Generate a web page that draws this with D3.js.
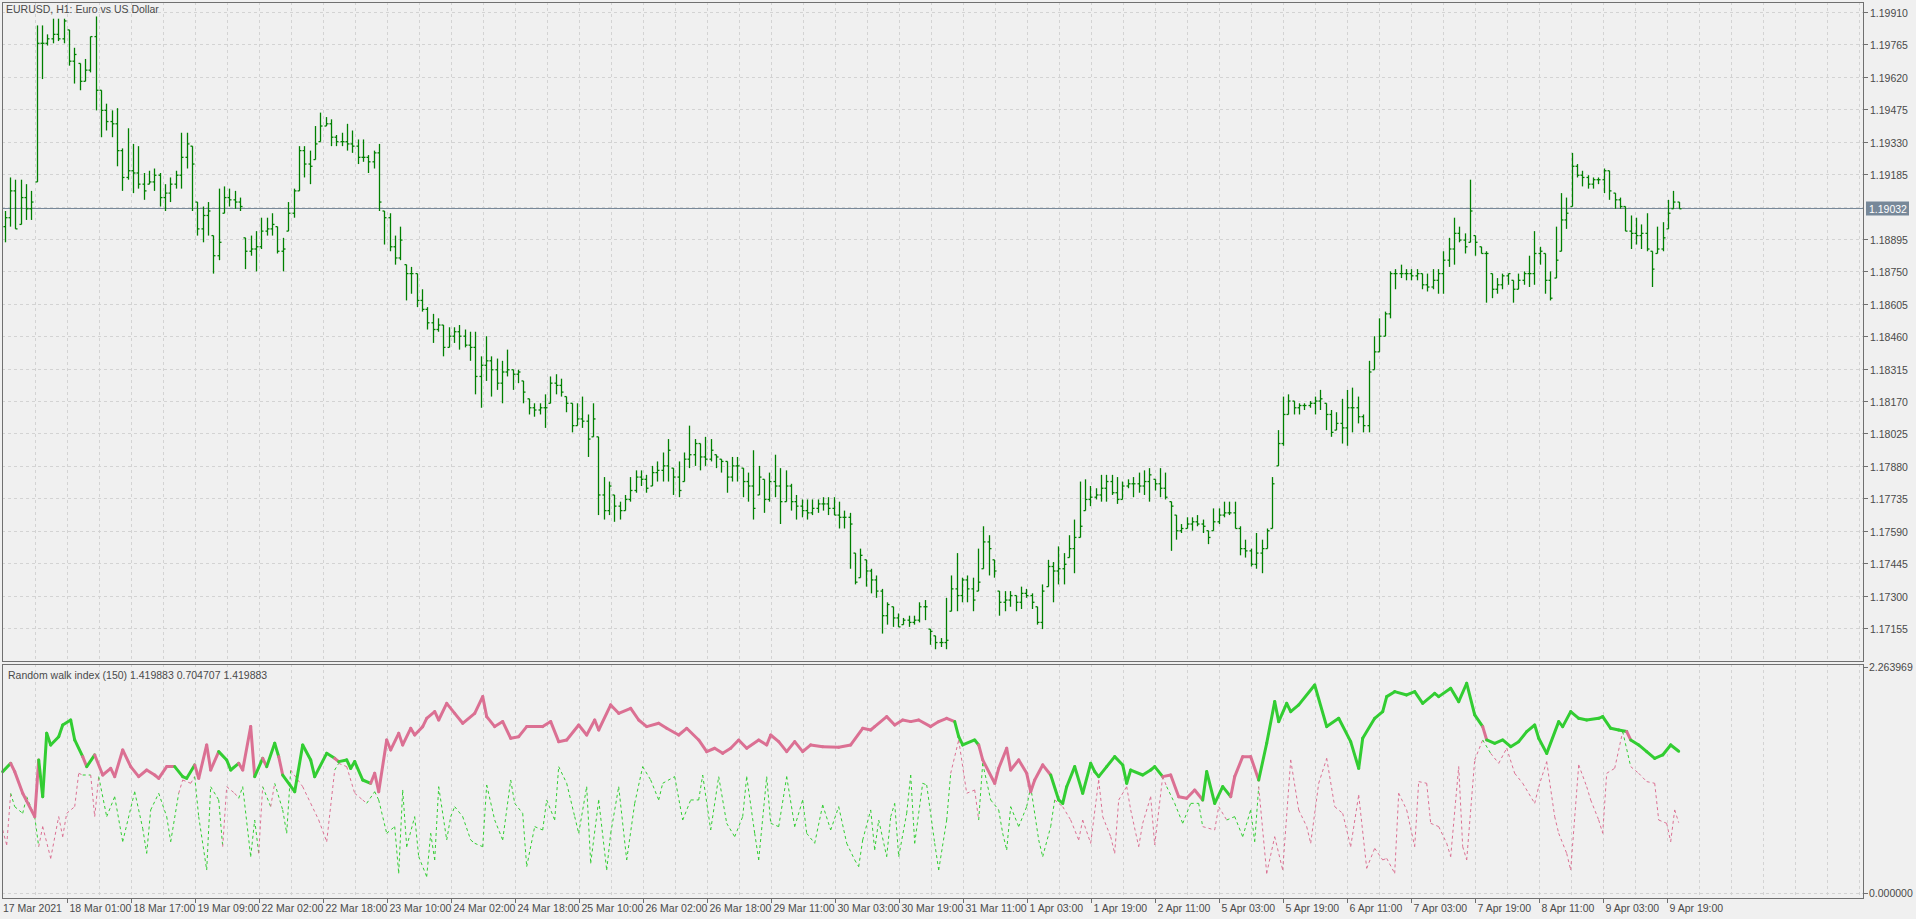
<!DOCTYPE html>
<html>
<head>
<meta charset="utf-8">
<script src="https://cdn.jsdelivr.net/npm/d3@7"></script>
<style>
  body { margin: 0; background: #f0f0f0; }
  svg text { font-family: "Liberation Sans", Arial, sans-serif; font-size: 10.5px; fill: #4a4a4a; }
</style>
</head>
<body>
<div id="chart"></div>
<script>
// EURUSD H1 bars (open = previous close)
const high = [
 1.1902,1.1917,1.1916,1.1916,1.1914,1.1911,1.1985,1.1985,1.1981,1.1988,
 1.1988,1.1988,1.1983,1.1975,1.1968,1.1970,1.1980,1.1989,1.1956,1.1950,
 1.1947,1.1948,1.1930,1.1939,1.1932,1.1931,1.1919,1.1920,1.1921,1.1919,
 1.1914,1.1917,1.1920,1.1937,1.1937,1.1931,1.1906,1.1904,1.1906,1.1891,
 1.1912,1.1913,1.1912,1.1911,1.1908,1.1890,1.1891,1.1893,1.1899,1.1899,
 1.1901,1.1895,1.1890,1.1906,1.1912,1.1931,1.1931,1.1929,1.1940,1.1946,
 1.1944,1.1943,1.1936,1.1937,1.1941,1.1938,1.1934,1.1934,1.1927,1.1929,
 1.1932,1.1902,1.1901,1.1891,1.1895,1.1878,1.1877,1.1874,1.1867,1.1859,
 1.1856,1.1854,1.1851,1.1850,1.1850,1.1851,1.1849,1.1848,1.1848,1.1837,
 1.1846,1.1837,1.1836,1.1835,1.1840,1.1831,1.1831,1.1826,1.1818,1.1816,
 1.1816,1.1820,1.1828,1.1829,1.1827,1.1819,1.1816,1.1816,1.1819,1.1811,
 1.1816,1.1801,1.1783,1.1781,1.1775,1.1772,1.1775,1.1783,1.1786,1.1786,
 1.1784,1.1788,1.1790,1.1794,1.1800,1.1787,1.1790,1.1794,1.1806,1.1800,
 1.1798,1.1801,1.1800,1.1793,1.1791,1.1790,1.1792,1.1792,1.1787,1.1785,
 1.1795,1.1788,1.1782,1.1785,1.1793,1.1787,1.1786,1.1780,1.1775,1.1773,
 1.1773,1.1773,1.1773,1.1774,1.1774,1.1774,1.1772,1.1768,1.1767,1.1749,
 1.1751,1.1746,1.1742,1.1739,1.1733,1.1727,1.1725,1.1722,1.1720,1.1721,
 1.1721,1.1727,1.1728,1.1715,1.1712,1.1711,1.1729,1.1739,1.1749,1.1738,
 1.1739,1.1738,1.1751,1.1761,1.1757,1.1746,1.1732,1.1732,1.1732,1.1730,
 1.1734,1.1733,1.1731,1.1725,1.1735,1.1746,1.1745,1.1752,1.1749,1.1757,
 1.1764,1.1781,1.1782,1.1779,1.1778,1.1784,1.1784,1.1784,1.1783,1.1781,
 1.1782,1.1783,1.1785,1.1786,1.1787,1.1782,1.1787,1.1785,1.1772,1.1766,
 1.1762,1.1765,1.1765,1.1766,1.1764,1.1759,1.1769,1.1769,1.1772,1.1772,
 1.1772,1.1761,1.1755,1.1751,1.1758,1.1755,1.1760,1.1783,1.1804,1.1819,
 1.1820,1.1817,1.1816,1.1816,1.1817,1.1819,1.1822,1.1816,1.1813,1.1812,
 1.1818,1.1822,1.1823,1.1819,1.1811,1.1835,1.1846,1.1854,1.1857,1.1875,
 1.1876,1.1878,1.1876,1.1876,1.1876,1.1874,1.1874,1.1876,1.1876,1.1884,
 1.1890,1.1899,1.1895,1.1892,1.1916,1.1891,1.1886,1.1884,1.1874,1.1872,
 1.1874,1.1874,1.1871,1.1874,1.1875,1.1882,1.1893,1.1886,1.1883,1.1875,
 1.1895,1.1910,1.1908,1.1928,1.1923,1.1920,1.1918,1.1917,1.1917,1.1921,
 1.1920,1.1910,1.1908,1.1904,1.1900,1.1899,1.1896,1.1901,1.1884,1.1895,
 1.1897,1.1907,1.1911,1.1906
];
const low = [
 1.1888,1.1895,1.1894,1.1896,1.1898,1.1898,1.1915,1.1961,1.1976,1.1977,
 1.1978,1.1977,1.1967,1.1959,1.1956,1.1960,1.1964,1.1947,1.1935,1.1938,
 1.1935,1.1922,1.1911,1.1916,1.1910,1.1912,1.1907,1.1914,1.1911,1.1904,
 1.1902,1.1906,1.1912,1.1912,1.1921,1.1902,1.1891,1.1888,1.1891,1.1874,
 1.1880,1.1901,1.1904,1.1903,1.1902,1.1876,1.1882,1.1875,1.1885,1.1891,
 1.1891,1.1883,1.1875,1.1893,1.1899,1.1911,1.1917,1.1914,1.1925,1.1933,
 1.1940,1.1931,1.1931,1.1931,1.1929,1.1928,1.1923,1.1924,1.1919,1.1921,
 1.1902,1.1887,1.1884,1.1878,1.1880,1.1862,1.1865,1.1859,1.1857,1.1849,
 1.1843,1.1848,1.1837,1.1841,1.1843,1.1840,1.1841,1.1835,1.1820,1.1814,
 1.1826,1.1819,1.1822,1.1816,1.1828,1.1822,1.1825,1.1816,1.1811,1.1810,
 1.1811,1.1805,1.1816,1.1820,1.1819,1.1812,1.1803,1.1806,1.1805,1.1792,
 1.1801,1.1766,1.1764,1.1766,1.1763,1.1764,1.1768,1.1772,1.1776,1.1779,
 1.1776,1.1779,1.1781,1.1781,1.1781,1.1775,1.1774,1.1781,1.1787,1.1788,
 1.1786,1.1788,1.1790,1.1787,1.1785,1.1776,1.1781,1.1781,1.1774,1.1772,
 1.1764,1.1775,1.1767,1.1772,1.1774,1.1762,1.1772,1.1768,1.1764,1.1765,
 1.1764,1.1766,1.1767,1.1768,1.1766,1.1766,1.1760,1.1760,1.1742,1.1735,
 1.1738,1.1734,1.1731,1.1729,1.1713,1.1717,1.1716,1.1716,1.1717,1.1716,
 1.1717,1.1718,1.1719,1.1708,1.1706,1.1707,1.1706,1.1723,1.1723,1.1727,
 1.1727,1.1723,1.1732,1.1742,1.1739,1.1738,1.1721,1.1723,1.1725,1.1723,
 1.1724,1.1729,1.1724,1.1717,1.1715,1.1734,1.1727,1.1735,1.1735,1.1747,
 1.1740,1.1756,1.1768,1.1770,1.1773,1.1772,1.1772,1.1775,1.1771,1.1773,
 1.1778,1.1774,1.1776,1.1775,1.1772,1.1777,1.1774,1.1773,1.1750,1.1755,
 1.1758,1.1760,1.1759,1.1761,1.1758,1.1753,1.1759,1.1762,1.1765,1.1766,
 1.1760,1.1748,1.1747,1.1743,1.1742,1.1740,1.1751,1.1760,1.1788,1.1797,
 1.1811,1.1811,1.1811,1.1813,1.1814,1.1811,1.1813,1.1804,1.1801,1.1804,
 1.1798,1.1797,1.1803,1.1807,1.1803,1.1803,1.1831,1.1839,1.1846,1.1854,
 1.1867,1.1872,1.1871,1.1871,1.1871,1.1867,1.1866,1.1867,1.1865,1.1865,
 1.1877,1.1878,1.1888,1.1883,1.1888,1.1882,1.1883,1.1861,1.1863,1.1865,
 1.1867,1.1869,1.1861,1.1867,1.1869,1.1868,1.1869,1.1878,1.1865,1.1862,
 1.1872,1.1884,1.1894,1.1904,1.1917,1.1913,1.1912,1.1912,1.1914,1.1910,
 1.1907,1.1903,1.1903,1.1893,1.1885,1.1887,1.1885,1.1884,1.1868,1.1883,
 1.1884,1.1894,1.1903,1.1903
];
const close = [
 1.1899,1.1911,1.1894,1.1908,1.1903,1.1906,1.1977,1.1977,1.1979,1.1981,
 1.1979,1.1987,1.1969,1.1972,1.1960,1.1965,1.1980,1.1956,1.1947,1.1942,
 1.1941,1.1929,1.1917,1.1920,1.1919,1.1914,1.1911,1.1915,1.1918,1.1908,
 1.1910,1.1914,1.1918,1.1926,1.1932,1.1923,1.1894,1.1900,1.1902,1.1882,
 1.1888,1.1908,1.1907,1.1906,1.1904,1.1884,1.1885,1.1886,1.1893,1.1894,
 1.1896,1.1884,1.1885,1.1901,1.1911,1.1929,1.1923,1.1922,1.1932,1.1940,
 1.1941,1.1935,1.1933,1.1933,1.1932,1.1931,1.1926,1.1926,1.1924,1.1928,
 1.1906,1.1899,1.1886,1.1881,1.1889,1.1874,1.1874,1.1862,1.1858,1.1852,
 1.1849,1.1851,1.1841,1.1846,1.1848,1.1846,1.1842,1.1841,1.1828,1.1833,
 1.1835,1.1831,1.1825,1.1830,1.1831,1.1829,1.1830,1.1821,1.1814,1.1813,
 1.1814,1.1814,1.1825,1.1824,1.1821,1.1816,1.1806,1.1809,1.1808,1.1800,
 1.1809,1.1775,1.1768,1.1779,1.1770,1.1768,1.1773,1.1777,1.1783,1.1782,
 1.1778,1.1785,1.1786,1.1788,1.1795,1.1783,1.1777,1.1791,1.1793,1.1798,
 1.1792,1.1791,1.1795,1.1792,1.1790,1.1783,1.1788,1.1788,1.1781,1.1779,
 1.1769,1.1783,1.1773,1.1781,1.1779,1.1772,1.1779,1.1772,1.1770,1.1768,
 1.1767,1.1769,1.1771,1.1771,1.1769,1.1766,1.1765,1.1765,1.1762,1.1736,
 1.1748,1.1741,1.1737,1.1732,1.1721,1.1726,1.1720,1.1716,1.1719,1.1718,
 1.1719,1.1725,1.1725,1.1714,1.1709,1.1709,1.1710,1.1733,1.1730,1.1737,
 1.1733,1.1728,1.1736,1.1754,1.1751,1.1741,1.1727,1.1728,1.1730,1.1727,
 1.1731,1.1730,1.1727,1.1718,1.1732,1.1743,1.1741,1.1742,1.1744,1.1751,
 1.1756,1.1761,1.1773,1.1774,1.1775,1.1778,1.1781,1.1776,1.1773,1.1779,
 1.1780,1.1780,1.1779,1.1781,1.1784,1.1780,1.1778,1.1774,1.1770,1.1759,
 1.1760,1.1762,1.1763,1.1762,1.1761,1.1756,1.1763,1.1766,1.1767,1.1767,
 1.1760,1.1751,1.1750,1.1744,1.1749,1.1751,1.1759,1.1780,1.1798,1.1811,
 1.1817,1.1814,1.1815,1.1815,1.1816,1.1817,1.1818,1.1811,1.1803,1.1807,
 1.1805,1.1814,1.1814,1.1810,1.1806,1.1830,1.1839,1.1846,1.1856,1.1874,
 1.1874,1.1874,1.1874,1.1873,1.1874,1.1869,1.1868,1.1871,1.1874,1.1880,
 1.1885,1.1892,1.1889,1.1886,1.1902,1.1888,1.1883,1.1883,1.1867,1.1869,
 1.1873,1.1874,1.1867,1.1871,1.1874,1.1874,1.1883,1.1884,1.1871,1.1863,
 1.1880,1.1898,1.1901,1.1922,1.1918,1.1917,1.1914,1.1916,1.1916,1.1920,
 1.1911,1.1907,1.1904,1.1893,1.1892,1.1891,1.1892,1.1885,1.1876,1.1885,
 1.1890,1.1901,1.1906,1.1903
];
const firstOpen = 1.1895;
const lastPrice = 1.19032;

// Random walk index: the larger line (thick) - hour from start, value, 1 = up line (green)
const strongHour = [0,2,3,5,8,9,10,11,12,14,15,17,18,20,21,23,25,27,28,30,32,34,36,38,39,41,43,45,46,48,49,51,52,54,56,57,59,60,62,63,65,66,68,69,70,73,75,77,78,81,83,84,86,87,88,90,92,93,94,96,97,99,100,102,103,105,106,108,109,111,113,115,118,120,121,123,125,127,129,131,135,137,139,141,144,146,148,149,152,154,157,159,161,164,166,169,171,174,176,178,180,182,184,186,189,191,192,194,196,198,200,202,205,209,212,215,217,218,221,223,225,227,229,232,234,236,238,239,240,243,244,245,248,249,251,252,254,256,257,258,260,262,264,265,266,268,270,272,273,274,276,278,280,281,282,285,287,288,290,292,294,296,298,300,301,303,305,307,308,310,312,314,316,318,319,321,322,324,328,331,334,337,339,340,343,345,346,348,351,353,355,358,359,362,364,366,368,370,371,373,375,377,379,381,383,384,386,389,390,392,394,396,399,400,402,404,406,407,409,411,413,415,417,419];
const strongVal = [1.216,1.299,1.216,0.999,0.765,1.333,0.965,1.600,1.483,1.566,1.683,1.733,1.533,1.366,1.266,1.383,1.182,1.249,1.166,1.433,1.266,1.166,1.232,1.182,1.149,1.266,1.266,1.166,1.149,1.283,1.149,1.483,1.232,1.416,1.333,1.232,1.299,1.232,1.667,1.166,1.349,1.266,1.500,1.366,1.182,1.015,1.483,1.333,1.166,1.399,1.349,1.316,1.333,1.249,1.316,1.132,1.099,1.199,1.015,1.533,1.433,1.600,1.483,1.650,1.583,1.667,1.750,1.817,1.733,1.900,1.800,1.700,1.800,1.967,1.767,1.667,1.717,1.550,1.566,1.667,1.667,1.717,1.516,1.533,1.683,1.583,1.733,1.633,1.884,1.800,1.850,1.733,1.667,1.700,1.650,1.583,1.650,1.533,1.416,1.450,1.399,1.450,1.533,1.450,1.533,1.483,1.583,1.516,1.416,1.516,1.416,1.483,1.466,1.460,1.483,1.650,1.633,1.667,1.767,1.683,1.733,1.717,1.733,1.667,1.717,1.750,1.717,1.566,1.483,1.533,1.483,1.333,1.099,1.249,1.450,1.232,1.333,1.199,1.015,1.132,1.283,1.182,0.932,0.898,1.065,1.266,0.999,1.299,1.216,1.166,1.266,1.366,1.283,1.099,1.232,1.182,1.232,1.266,1.166,1.182,0.965,0.949,1.032,0.932,1.216,0.898,1.065,0.965,1.166,1.366,1.366,1.132,1.500,1.917,1.717,1.900,1.817,1.884,2.084,1.667,1.750,1.516,1.249,1.550,1.750,1.817,1.967,2.017,1.984,2.017,1.900,2.000,1.967,2.051,1.917,2.101,1.784,1.667,1.533,1.500,1.533,1.466,1.516,1.617,1.683,1.550,1.399,1.717,1.667,1.817,1.750,1.733,1.750,1.767,1.650,1.633,1.617,1.533,1.483,1.416,1.349,1.383,1.483,1.420];
const strongUp = [1,1,0,0,0,0,1,1,1,1,1,1,1,1,0,1,0,0,0,0,0,0,0,0,0,0,0,1,1,1,0,0,0,0,1,1,1,0,0,0,1,0,1,1,0,1,1,1,1,1,1,0,1,1,1,1,1,0,0,0,0,0,0,0,0,0,0,0,0,0,0,0,0,0,0,0,0,0,0,0,0,0,0,0,0,0,0,0,0,0,0,0,0,0,0,0,0,0,0,0,0,0,0,0,0,0,0,0,0,0,0,0,0,0,0,0,0,0,0,0,0,0,0,0,0,0,0,1,1,1,1,0,0,0,0,0,0,0,0,0,0,0,1,1,1,1,1,1,1,1,1,1,1,1,1,1,1,1,1,0,0,0,0,0,1,1,1,1,0,0,0,0,1,1,1,1,1,1,1,1,1,1,1,1,1,1,1,1,1,1,1,1,1,1,1,1,1,1,0,1,1,1,1,1,1,1,1,1,1,1,1,1,1,1,1,1,1,0,1,1,1,1,1,1,1];

// the smaller line (dotted)
const weakHour = [0,1,2,3,5,6,8,9,10,12,14,15,16,18,19,20,22,23,24,26,28,30,33,35,36,37,39,41,42,44,45,47,48,49,51,52,54,55,56,58,59,60,62,63,64,65,67,68,70,71,72,75,77,79,81,83,84,86,88,90,91,93,94,96,98,99,100,101,103,104,106,107,108,109,111,112,113,115,117,118,120,121,123,125,127,128,130,131,133,135,136,138,139,141,143,144,146,147,149,151,152,154,156,158,160,162,164,165,168,170,172,174,175,177,179,181,183,185,186,188,189,191,192,194,196,198,200,201,203,205,207,209,211,213,214,215,217,218,219,221,222,223,224,226,227,228,230,231,233,234,236,237,239,241,243,244,245,247,249,250,251,252,254,256,257,259,260,262,263,265,267,269,270,272,274,275,277,278,279,281,282,284,285,287,288,290,291,293,295,297,299,300,303,304,306,308,310,312,313,314,316,318,320,322,324,326,327,329,331,333,335,337,339,341,343,345,346,348,349,351,353,354,356,357,359,361,362,364,365,366,368,370,372,374,376,378,380,383,384,386,388,389,391,392,394,396,397,399,400,401,403,405,407,409,411,413,414,416,417,418,419];
const weakVal = [0.631,0.481,0.999,0.865,0.798,0.965,0.765,0.464,0.665,0.347,0.765,0.564,0.798,0.865,1.199,1.182,1.182,0.765,1.166,0.765,0.965,0.514,1.015,0.648,0.397,0.832,0.999,0.765,0.514,0.999,1.132,1.099,1.166,0.765,0.230,1.065,0.932,0.464,1.065,0.999,0.949,1.065,0.364,0.731,0.397,1.065,0.865,1.099,0.832,0.598,1.232,1.065,0.898,0.731,0.514,1.232,1.299,1.266,0.999,0.932,0.898,1.015,0.932,0.598,0.665,0.197,1.032,0.464,0.765,0.364,0.164,0.598,0.331,1.065,0.531,0.765,0.865,0.765,0.531,0.498,0.464,1.082,0.731,0.531,1.132,0.898,0.798,0.264,0.665,0.631,0.932,0.731,1.266,1.099,0.765,0.598,1.065,0.297,0.932,0.230,0.598,1.065,0.331,0.898,1.266,1.132,0.932,1.099,1.166,0.731,0.932,0.932,1.182,0.631,1.166,0.698,0.564,0.765,1.166,0.598,0.331,1.166,0.698,0.665,1.166,0.665,0.932,0.598,0.498,0.882,0.631,0.865,0.498,0.331,0.264,0.531,0.832,0.431,0.731,0.364,0.765,0.898,0.364,0.798,1.182,0.498,1.099,1.082,0.498,0.230,0.731,1.199,1.533,0.999,1.032,0.731,1.299,0.932,0.832,0.598,0.431,0.865,0.665,0.865,1.065,0.531,0.364,0.665,0.932,0.865,0.731,0.531,0.731,0.498,1.132,0.765,0.564,0.397,0.932,1.065,0.832,0.464,0.698,0.965,0.481,1.166,1.065,0.898,0.698,0.898,0.898,0.665,0.631,0.865,0.731,0.765,0.564,0.832,0.514,1.065,0.197,0.564,0.230,1.333,0.832,0.665,0.498,1.099,1.349,0.865,0.798,0.464,0.982,0.247,0.448,0.331,0.347,0.197,0.999,0.832,0.464,1.116,1.099,0.698,0.665,0.498,0.364,1.266,0.464,0.331,1.333,1.533,1.399,1.299,1.450,1.199,1.099,0.898,1.065,1.316,0.765,0.598,0.397,0.230,1.283,1.065,0.932,0.731,0.598,1.199,1.249,1.617,1.266,1.199,1.116,1.099,0.731,0.698,0.514,0.832,0.705];

const timeLabels = ["17 Mar 2021","18 Mar 01:00","18 Mar 17:00","19 Mar 09:00","22 Mar 02:00","22 Mar 18:00",
 "23 Mar 10:00","24 Mar 02:00","24 Mar 18:00","25 Mar 10:00","26 Mar 02:00","26 Mar 18:00","29 Mar 11:00",
 "30 Mar 03:00","30 Mar 19:00","31 Mar 11:00","1 Apr 03:00","1 Apr 19:00","2 Apr 11:00","5 Apr 03:00",
 "5 Apr 19:00","6 Apr 11:00","7 Apr 03:00","7 Apr 19:00","8 Apr 11:00","9 Apr 03:00","9 Apr 19:00"];

const priceTop = 1.19910, priceStep = 0.00145;
const rwiMax = 2.263969;

const W = 1916, H = 919;
const plotL = 2, plotR = 1863;
const mainTop = 2, mainBot = 661, indTop = 664, indBot = 898;
const bg = "#f0f0f0", gridCol = "#d3d3d3", frame = "#707070";
const barCol = "#008000", upCol = "#32cd32", dnCol = "#db7093";

const svg = d3.select("#chart").append("svg")
    .attr("width", W).attr("height", H)
    .style("background", bg);

// scales
const xHour = d3.scaleLinear().domain([0, 419]).range([2.7, 1678.7]);
const xBar = d3.scaleLinear().domain([0, close.length - 1]).range([xHour(0) + 2, xHour(419)]);
const yPrice = d3.scaleLinear().domain([1.17155, 1.19910]).range([628, 12]);
const yInd = d3.scaleLinear().domain([0, rwiMax]).range([893, 667]);

// vertical grid every 8 hours
const gridHours = d3.range(8, 420 + 64, 8).filter(h => xHour(h) < plotR - 2);
const priceTicks = d3.range(0, 20).map(k => +(priceTop - k * priceStep).toFixed(5));

const grid = svg.append("g")
    .attr("stroke", gridCol).attr("stroke-dasharray", "3,3").attr("stroke-width", 1);
gridHours.forEach(h => {
    const x = Math.round(xHour(h)) + 0.5;
    grid.append("line").attr("x1", x).attr("x2", x).attr("y1", mainTop).attr("y2", mainBot);
    grid.append("line").attr("x1", x).attr("x2", x).attr("y1", indTop).attr("y2", indBot);
});
priceTicks.forEach(p => {
    const y = Math.round(yPrice(p)) + 0.5;
    grid.append("line").attr("x1", plotL).attr("x2", plotR).attr("y1", y).attr("y2", y);
});
grid.append("line").attr("x1", plotL).attr("x2", plotR)
    .attr("y1", Math.round(yInd(0)) + 0.5).attr("y2", Math.round(yInd(0)) + 0.5);

// current price line
const yLast = Math.round(yPrice(lastPrice)) + 0.5;
svg.append("line").attr("x1", plotL).attr("x2", plotR).attr("y1", yLast).attr("y2", yLast)
    .attr("stroke", "#778899").attr("stroke-width", 1);

// OHLC bars
const bars = svg.append("g").attr("stroke", barCol).attr("stroke-width", 1.3).attr("fill", "none");
close.forEach((c, i) => {
    const x = Math.round(xBar(i)) + 0.5;
    let o = i === 0 ? firstOpen : close[i - 1];
    o = Math.max(low[i], Math.min(high[i], o));
    bars.append("line").attr("x1", x).attr("x2", x).attr("y1", yPrice(high[i])).attr("y2", yPrice(low[i]));
    bars.append("line").attr("x1", x - 2).attr("x2", x).attr("y1", yPrice(o)).attr("y2", yPrice(o));
    bars.append("line").attr("x1", x).attr("x2", x + 2).attr("y1", yPrice(c)).attr("y2", yPrice(c));
});

// indicator: weak (dotted) line, colour opposite to the strong line at that hour
const bis = d3.bisector(h => h).right;
const strongAt = h => strongUp[Math.max(0, bis(strongHour, h) - 1)];
const ind = svg.append("g").attr("fill", "none");
for (let i = 1; i < weakHour.length; i++) {
    ind.append("line")
        .attr("x1", xHour(weakHour[i - 1])).attr("y1", yInd(weakVal[i - 1]))
        .attr("x2", xHour(weakHour[i])).attr("y2", yInd(weakVal[i]))
        .attr("stroke", strongAt(weakHour[i]) ? dnCol : upCol)
        .attr("stroke-width", 1).attr("stroke-dasharray", "3,3");
}
for (let i = 1; i < strongHour.length; i++) {
    ind.append("line")
        .attr("x1", xHour(strongHour[i - 1])).attr("y1", yInd(strongVal[i - 1]))
        .attr("x2", xHour(strongHour[i])).attr("y2", yInd(strongVal[i]))
        .attr("stroke", strongUp[i] ? upCol : dnCol)
        .attr("stroke-width", 3).attr("stroke-linecap", "round");
}

// frames
svg.append("rect").attr("x", plotL + 0.5).attr("y", mainTop + 0.5)
    .attr("width", plotR - plotL).attr("height", mainBot - mainTop)
    .attr("fill", "none").attr("stroke", frame);
svg.append("rect").attr("x", plotL + 0.5).attr("y", indTop + 0.5)
    .attr("width", plotR - plotL).attr("height", indBot - indTop)
    .attr("fill", "none").attr("stroke", frame);

// right price axis
const axisG = svg.append("g");
priceTicks.forEach((p, k) => {
    if (k === 6) return; // hidden behind current price label
    const y = Math.round(yPrice(p)) + 0.5;
    axisG.append("line").attr("x1", plotR + 0.5).attr("x2", plotR + 5).attr("y1", y).attr("y2", y).attr("stroke", frame);
    axisG.append("text").attr("x", plotR + 7).attr("y", y + 4).text(p.toFixed(5));
});
axisG.append("rect").attr("x", plotR + 3).attr("y", yLast - 7).attr("width", 43).attr("height", 14).attr("fill", "#778899");
axisG.append("text").attr("x", plotR + 6).attr("y", yLast + 4).style("fill", "#fff").text(lastPrice.toFixed(5));

axisG.append("line").attr("x1", plotR).attr("x2", plotR + 5).attr("y1", 667.5).attr("y2", 667.5).attr("stroke", frame);
axisG.append("text").attr("x", plotR + 6).attr("y", 671).text(rwiMax.toFixed(6));
axisG.append("line").attr("x1", plotR).attr("x2", plotR + 5).attr("y1", 893.5).attr("y2", 893.5).attr("stroke", frame);
axisG.append("text").attr("x", plotR + 6).attr("y", 897).text("0.000000");

// time axis
timeLabels.forEach((t, k) => {
    const x = Math.round(xHour(16 * k)) + 0.5;
    if (k > 0) axisG.append("line").attr("x1", x).attr("x2", x).attr("y1", indBot).attr("y2", indBot + 5).attr("stroke", frame);
    axisG.append("text").attr("x", k === 0 ? 3 : x + 2).attr("y", 912).text(t);
});

// titles
svg.append("text").attr("x", 6).attr("y", 13).text("EURUSD, H1:  Euro vs US Dollar");
svg.append("text").attr("x", 8).attr("y", 679).text("Random walk index (150) 1.419883 0.704707 1.419883");
</script>
</body>
</html>
